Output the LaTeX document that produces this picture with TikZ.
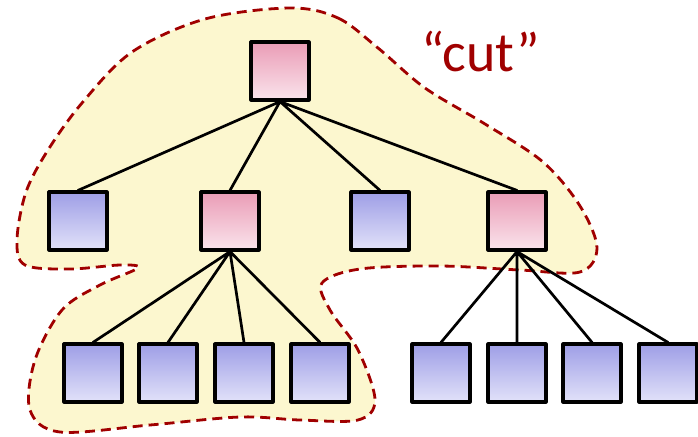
\documentclass[tikz,border=0pt]{standalone}
\usepackage{fontspec}
\setmainfont{Carlito}
\usepackage{tikz}
\usetikzlibrary{positioning}
\definecolor{cutred}{RGB}{160, 0, 0}
\definecolor{cutfill}{RGB}{252, 247, 207}
\definecolor{pinktop}{RGB}{234, 156, 182}
\definecolor{pinkbot}{RGB}{250, 228, 236}
\definecolor{bluetop}{RGB}{158, 158, 230}
\definecolor{bluebot}{RGB}{226, 226, 249}

\begin{document}
\begin{tikzpicture}[x=1pt, y=-1pt, line cap=round, line join=round,
	box/.style={draw, line width=3.2pt, minimum size=58pt, inner sep=0pt},
	pinkbox/.style={box, top color=pinktop, bottom color=pinkbot},
	bluebox/.style={box, top color=bluetop, bottom color=bluebot},
	edge/.style={line width=2.7pt},
	cutline/.style={draw=cutred, fill=cutfill, line width=2.8pt, dash pattern=on 10pt off 6pt, line cap=butt}]
	\useasboundingbox (0,0) rectangle (698,436);

	% the region that is cut off
	\draw[cutline] plot[smooth cycle, tension=0.55] coordinates {
		(290,8) (338,18) (378,48) (425,88) (485,124) (543,162) (580,206) (597,248) (580,272)
		(520,270) (440,266) (360,269) (322,283) (330,310) (358,350) (375,400)
		(358,420) (300,420) (240,417) (150,425) (60,432) (30,410) (35,360)
		(62,310) (100,285) (138,268) (120,265) (70,269) (25,265) (17,240)
		(26,192) (48,150) (82,103) (132,52) (205,19)};
	\node[text=cutred, font=\fontsize{56}{62}\selectfont] (cut) at (481,52) {“cut”};

	% tree nodes
	\node[pinkbox] (root) at (280,71) {};
	\node[bluebox] (a1) at (78,221) {};
	\node[pinkbox] (a2) at (230,221) {};
	\node[bluebox] (a3) at (380,221) {};
	\node[pinkbox] (a4) at (517,221) {};
	\node[bluebox] (b1) at (93,373) {};
	\node[bluebox] (b2) at (168,373) {};
	\node[bluebox] (b3) at (244,373) {};
	\node[bluebox] (b4) at (320,373) {};
	\node[bluebox] (c1) at (441,373) {};
	\node[bluebox] (c2) at (517,373) {};
	\node[bluebox] (c3) at (592,373) {};
	\node[bluebox] (c4) at (668,373) {};

	% edges
	\draw[edge] (root.south) -- (a1.north) (root.south) -- (a2.north)
		(root.south) -- (a3.north) (root.south) -- (a4.north);
	\draw[edge] (a2.south) -- (b1.north) (a2.south) -- (b2.north)
		(a2.south) -- (b3.north) (a2.south) -- (b4.north);
	\draw[edge] (a4.south) -- (c1.north) (a4.south) -- (c2.north)
		(a4.south) -- (c3.north) (a4.south) -- (c4.north);

\end{tikzpicture}
\end{document}
